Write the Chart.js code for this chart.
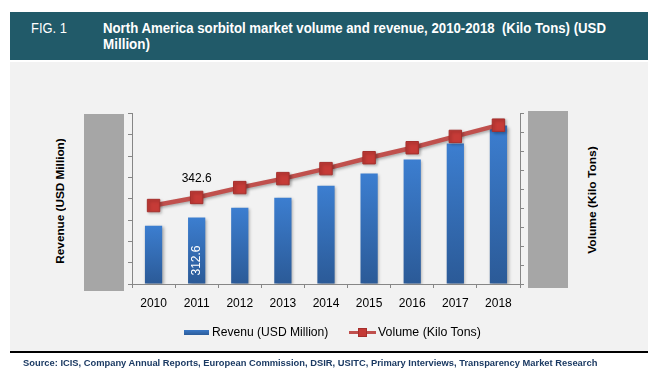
<!DOCTYPE html>
<html>
<head>
<meta charset="utf-8">
<script src="https://cdn.jsdelivr.net/npm/chart.js@4/dist/chart.umd.min.js"></script>
<style>
  html, body { margin:0; padding:0; background:#fff; }
  body { width:671px; height:392px; position:relative; overflow:hidden; font-family:"Liberation Sans", Arial, sans-serif; }
  .abs { position:absolute; }
  .fit { display:inline-block; white-space:nowrap; }
  #header { left:10px; top:12px; width:638px; height:48px; background:#215A69; }
  #panel { left:10px; top:62px; width:638px; height:289px; background:#F2F2F2; }
  #rule { left:10px; top:351px; width:638px; height:2px; background:#000; }
  .gbar { background:#A6A6A6; }
  .hdr { color:#fff; font-size:14px; line-height:16px; font-family:"Liberation Sans Narrow","Arial Narrow","Liberation Sans",Arial,sans-serif; }
  .rot { transform:translate(-50%,-50%) rotate(-90deg); font-weight:bold; font-size:11px; line-height:14px; color:#000; white-space:nowrap; }
  .leg { font-size:12px; line-height:14px; color:#000; }
  #cv { position:absolute; left:0; top:0; }
</style>
</head>
<body>
<div id="header" class="abs"></div>
<div id="panel" class="abs"></div>
<div id="rule" class="abs"></div>
<div class="abs gbar" style="left:84px;top:114px;width:40px;height:177px;"></div>
<div class="abs gbar" style="left:528px;top:111px;width:40px;height:177px;"></div>

<div class="abs hdr" style="left:31px;top:20px;"><span class="fit" data-w="36">FIG. 1</span></div>
<div class="abs hdr" style="left:103px;top:20px;font-weight:bold;"><span class="fit" data-w="503">North America sorbitol market volume and revenue, 2010-2018&nbsp; (Kilo Tons) (USD</span></div>
<div class="abs hdr" style="left:103px;top:36px;font-weight:bold;"><span class="fit" data-w="47">Million)</span></div>

<div class="abs rot" style="left:60px;top:200.5px;"><span class="fit fitc" data-w="125">Revenue (USD Million)</span></div>
<div class="abs rot" style="left:592px;top:200px;"><span class="fit fitc" data-w="108">Volume (Kilo Tons)</span></div>

<canvas id="cv" width="671" height="392"></canvas>

<div class="abs" style="left:184px;top:330px;width:25px;height:5px;background:linear-gradient(#3A78C6,#2C5C99);"></div>
<div class="abs leg" style="left:212px;top:325px;"><span class="fit" data-w="116">Revenu (USD Million)</span></div>
<div class="abs" style="left:349px;top:331px;width:27px;height:3px;background:#C0504D;"></div>
<div class="abs" style="left:358px;top:328px;width:9px;height:9px;background:#C43A36;box-sizing:border-box;border:1px solid #A52F2C;"></div>
<div class="abs leg" style="left:378px;top:325px;"><span class="fit" data-w="103">Volume (Kilo Tons)</span></div>

<div class="abs" style="left:23px;top:357px;font-size:9px;line-height:12px;font-weight:bold;color:#1B3A63;"><span class="fit" data-w="574">Source: ICIS, Company Annual Reports, European Commission, DSIR, USITC, Primary Interviews, Transparency Market Research</span></div>

<script>
// ---- data ----
const years = ['2010','2011','2012','2013','2014','2015','2016','2017','2018'];
const revenue = [273, 312.6, 358, 405, 461, 518, 584, 659, 744];   // USD Million
const volume  = [310.6, 342.6, 381.7, 417.2, 456.7, 500, 539.5, 584.2, 628.8]; // Kilo Tons
const revenueAxis = { min: 0, max: 800, step: 100 };
const volumeAxis  = { min: 0, max: 675, step: 75 };
const labelledVolume = { index: 1, text: '342.6' };
const labelledRevenue = { index: 1, text: '312.6' };

// ---- fit texts (layout width, unaffected by transforms) ----
document.querySelectorAll('.fit').forEach(el => {
  const target = parseFloat(el.dataset.w);
  const nat = el.offsetWidth;
  el.style.transformOrigin = el.classList.contains('fitc') ? 'center center' : 'left center';
  el.style.transform = 'scaleX(' + (target / nat) + ')';
});

const shadowPlugin = {
  id: 'shadows',
  beforeDatasetDraw(chart, args) {
    const ctx = chart.ctx;
    ctx.save();
    ctx.shadowColor = 'rgba(0,0,0,0.30)';
    ctx.shadowBlur = 3;
    ctx.shadowOffsetX = 1.5;
    ctx.shadowOffsetY = 1.5;
  },
  afterDatasetDraw(chart) { chart.ctx.restore(); }
};

const labelPlugin = {
  id: 'valueLabels',
  afterDatasetsDraw(chart) {
    const ctx = chart.ctx;
    const lineMeta = chart.getDatasetMeta(0);
    const barMeta = chart.getDatasetMeta(1);
    ctx.save();
    ctx.font = '12px "Liberation Sans", Arial, sans-serif';
    ctx.textAlign = 'center';
    ctx.textBaseline = 'middle';
    const p = lineMeta.data[labelledVolume.index];
    ctx.fillStyle = '#000';
    ctx.fillText(labelledVolume.text, p.x, p.y - 19);
    const b = barMeta.data[labelledRevenue.index];
    ctx.translate(b.x, b.base - 23);
    ctx.rotate(-Math.PI / 2);
    ctx.fillStyle = '#fff';
    ctx.fillText(labelledRevenue.text, 0, 0);
    ctx.restore();
  }
};

function barFill(c) {
  const chart = c.chart;
  if (!chart.chartArea || c.raw === undefined) return '#3570B8';
  const y = chart.scales.y;
  const top = y.getPixelForValue(c.raw);
  const bottom = y.getPixelForValue(0);
  const g = chart.ctx.createLinearGradient(0, top, 0, bottom);
  g.addColorStop(0, '#3C7ED0');
  g.addColorStop(1, '#2B5A97');
  return g;
}

const axisColor = '#868686';
new Chart(document.getElementById('cv'), {
  type: 'bar',
  data: {
    labels: years,
    datasets: [
      {
        type: 'line', label: 'Volume (Kilo Tons)', data: volume, yAxisID: 'y1',
        borderColor: '#C0504D', borderWidth: 4.5, tension: 0,
        pointStyle: 'rect', pointRadius: 8.8, pointHoverRadius: 8.8,
        pointBackgroundColor: '#C63B37', pointBorderColor: '#A52F2C', pointBorderWidth: 1,
        order: 0
      },
      {
        type: 'bar', label: 'Revenu (USD Million)', data: revenue, yAxisID: 'y',
        backgroundColor: barFill, barPercentage: 0.8, categoryPercentage: 0.5,
        order: 1
      }
    ]
  },
  options: {
    responsive: false, animation: false, devicePixelRatio: 1,
    layout: { padding: { left: 128, right: 147, top: 113.5, bottom: 73.6 } },
    plugins: { legend: { display: false }, tooltip: { enabled: false } },
    scales: {
      x: {
        offset: true,
        grid: { drawOnChartArea: false, tickLength: 4, color: axisColor, offset: true },
        border: { color: axisColor },
        ticks: { color: '#000', font: { size: 12, family: '"Liberation Sans", Arial, sans-serif' }, padding: 8, maxRotation: 0 }
      },
      y: {
        position: 'left', min: revenueAxis.min, max: revenueAxis.max,
        ticks: { stepSize: revenueAxis.step, display: false },
        grid: { drawOnChartArea: false, tickLength: 4, color: axisColor },
        border: { color: axisColor }
      },
      y1: {
        position: 'right', min: volumeAxis.min, max: volumeAxis.max,
        ticks: { stepSize: volumeAxis.step, display: false },
        grid: { drawOnChartArea: false, tickLength: 4, color: axisColor },
        border: { color: axisColor }
      }
    }
  },
  plugins: [shadowPlugin, labelPlugin]
});
</script>
</body>
</html>
